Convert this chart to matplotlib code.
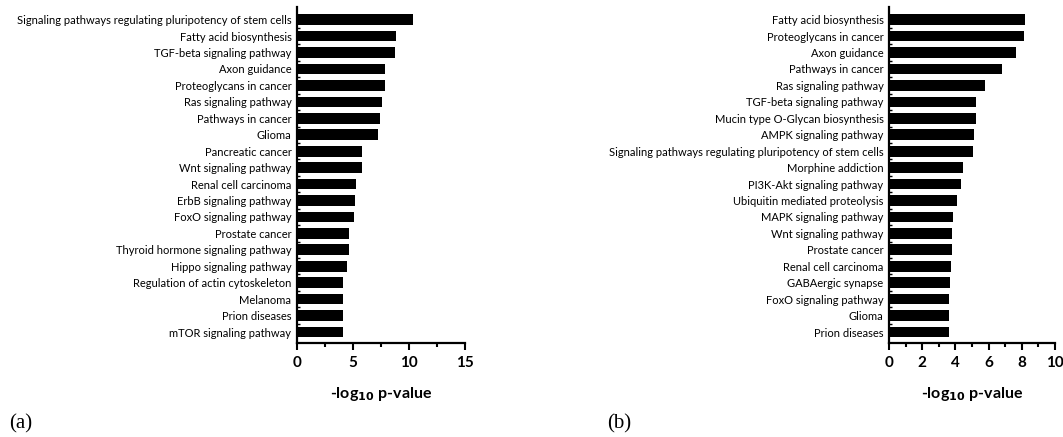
import matplotlib
matplotlib.use("Agg")
import matplotlib.pyplot as plt
from matplotlib.ticker import MultipleLocator, FixedLocator

# KEGG pathway enrichment, panel (a)
terms_a = ["Signaling pathways regulating pluripotency of stem cells",
           "Fatty acid biosynthesis", "TGF-beta signaling pathway",
           "Axon guidance", "Proteoglycans in cancer", "Ras signaling pathway",
           "Pathways in cancer", "Glioma", "Pancreatic cancer",
           "Wnt signaling pathway", "Renal cell carcinoma",
           "ErbB signaling pathway", "FoxO signaling pathway", "Prostate cancer",
           "Thyroid hormone signaling pathway", "Hippo signaling pathway",
           "Regulation of actin cytoskeleton", "Melanoma", "Prion diseases",
           "mTOR signaling pathway"]
vals_a = [10.4, 8.88, 8.73, 7.86, 7.86, 7.56, 7.41, 7.26, 5.77, 5.77,
          5.25, 5.16, 5.07, 4.63, 4.63, 4.48, 4.15, 4.15, 4.15, 4.12]

# panel (b)
terms_b = ["Fatty acid biosynthesis", "Proteoglycans in cancer", "Axon guidance",
           "Pathways in cancer", "Ras signaling pathway",
           "TGF-beta signaling pathway", "Mucin type O-Glycan biosynthesis",
           "AMPK signaling pathway",
           "Signaling pathways regulating pluripotency of stem cells",
           "Morphine addiction", "PI3K-Akt signaling pathway",
           "Ubiquitin mediated proteolysis", "MAPK signaling pathway",
           "Wnt signaling pathway", "Prostate cancer", "Renal cell carcinoma",
           "GABAergic synapse", "FoxO signaling pathway", "Glioma",
           "Prion diseases"]
vals_b = [8.21, 8.13, 7.63, 6.83, 5.78, 5.26, 5.26, 5.14, 5.08, 4.48,
          4.32, 4.12, 3.88, 3.82, 3.82, 3.72, 3.68, 3.64, 3.64, 3.64]

fig = plt.figure(figsize=(10.63, 4.37), dpi=100)
ax_a = fig.add_axes([0.2794, 0.215, 0.158, 0.769])
ax_b = fig.add_axes([0.8363, 0.215, 0.1562, 0.769])


def draw_panel(ax, terms, vals, xmax, major, minor):
    y = list(range(len(terms)))
    ax.barh(y, vals, height=0.65, color="black")
    ax.set_ylim(len(terms) - 1 + 0.67, -0.77)
    ax.set_xlim(0, xmax)
    ax.set_yticks(y)
    ax.set_yticklabels(terms, fontsize=8, family="Lato")
    ax.tick_params(axis="y", which="major", length=0, pad=4)
    ax.yaxis.set_minor_locator(FixedLocator([i + 0.5 for i in y[:-1]]))
    ax.tick_params(axis="y", which="minor", direction="in", length=2.5, width=1)
    ax.xaxis.set_major_locator(MultipleLocator(major))
    ax.xaxis.set_minor_locator(MultipleLocator(minor))
    ax.tick_params(axis="x", which="major", length=5, width=1.5, labelsize=11, pad=4)
    ax.tick_params(axis="x", which="minor", length=3, width=1.5)
    for lbl in ax.get_xticklabels():
        lbl.set_fontweight("bold")
        lbl.set_family("Lato")
    for side in ["top", "right"]:
        ax.spines[side].set_visible(False)
    for side in ["left", "bottom"]:
        ax.spines[side].set_linewidth(1.6)
    ax.set_xlabel("-log$_{\\mathbf{10}}$ p-value", fontsize=11.5, fontweight="bold",
                  family="Lato", labelpad=11)


draw_panel(ax_a, terms_a, vals_a, 15, 5, 2.5)
draw_panel(ax_b, terms_b, vals_b, 10, 2, 1)

fig.text(0.009, 0.02, "(a)", fontsize=15, family="Liberation Serif")
fig.text(0.571, 0.02, "(b)", fontsize=15, family="Liberation Serif")

fig.savefig("out.png", dpi=100)
